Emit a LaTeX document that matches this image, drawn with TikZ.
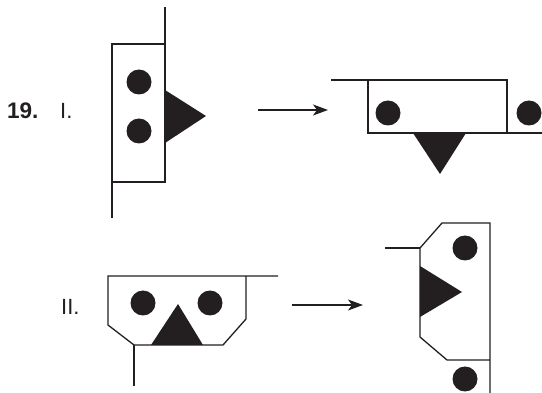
\documentclass[tikz,border=0pt]{standalone}
\usepackage{fontspec}
\setmainfont{Liberation Sans}
\usetikzlibrary{arrows.meta}
\definecolor{ink}{RGB}{35,31,32}
\begin{document}
\begin{tikzpicture}[x=1pt,y=-1pt,
  outline/.style={draw=ink,line width=1.3pt,line join=miter},
  blob/.style={fill=ink},
  conn/.style={draw=ink,line width=1.3pt,-{Stealth[length=15pt,width=11pt,inset=4pt]}},
  lbl/.style={anchor=base west,inner sep=0pt,text=ink,font=\fontsize{22}{24}\selectfont}]
\useasboundingbox (0,0) rectangle (542,393);
% labels
\node[lbl,font=\fontsize{22.5}{24}\selectfont\bfseries] (n19) at (7,118.5) {19.};
\node[lbl] (l1) at (60,118.5) {I.};
\node[lbl] (l2) at (61,314.5) {II.};
% ---- I, left
\draw[outline] (112,44) rectangle (165,182);
\draw[outline] (165,44) -- (165,7);
\draw[outline] (112,182) -- (112,218);
\fill[blob] (139,82) circle (12.5);
\fill[blob] (139,131) circle (12.5);
\fill[blob] (165,90) -- (206,116) -- (165,143) -- cycle;
% arrow I
\coordinate (a1s) at (258,110);
\coordinate (a1e) at (328,110);
\draw[conn] (a1s) -- (a1e);
% ---- I, right
\draw[outline] (331,80) -- (507,80);
\draw[outline] (368,80) rectangle (507,133);
\draw[outline] (507,133) -- (542,133);
\fill[blob] (388,113) circle (12.5);
\fill[blob] (529,113) circle (12.5);
\fill[blob] (413,133) -- (466,133) -- (440,174) -- cycle;
% ---- II, left
\draw[outline] (278,276) -- (108,276) -- (108,325) -- (134,345) -- (223,345) -- (246,319) -- (246,276);
\draw[outline] (134,345) -- (134,386);
\fill[blob] (143,303) circle (12.5);
\fill[blob] (210,303) circle (12.5);
\fill[blob] (151,345) -- (203,345) -- (178,304) -- cycle;
% arrow II
\coordinate (a2s) at (292,305);
\coordinate (a2e) at (363,305);
\draw[conn] (a2s) -- (a2e);
% ---- II, right
\draw[outline] (490,393) -- (490,223) -- (442,223) -- (420,248) -- (420,337) -- (447,360) -- (490,360);
\draw[outline] (385,248) -- (420,248);
\fill[blob] (465,248) circle (12.5);
\fill[blob] (465,379) circle (12.5);
\fill[blob] (420,266) -- (462,292) -- (420,317) -- cycle;
\end{tikzpicture}
\end{document}
